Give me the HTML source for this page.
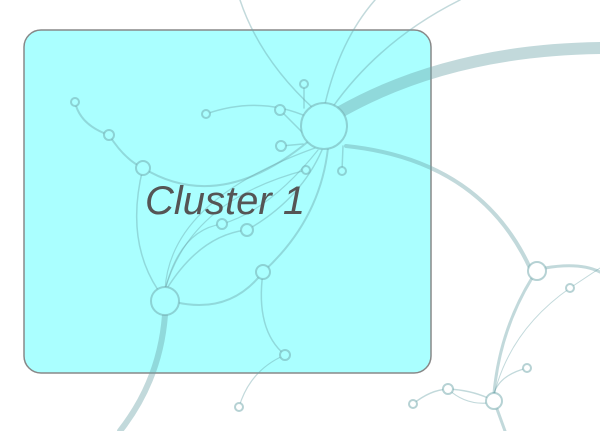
<!DOCTYPE html>
<html><head><style>body{margin:0;background:#fff}svg{display:block}</style></head><body>
<svg width="600" height="431" viewBox="0 0 600 431" xmlns="http://www.w3.org/2000/svg">
<rect x="24" y="30" width="407" height="343" rx="17" fill="#aaffff" stroke="#888" stroke-width="1.5"/>
<g fill="none" stroke="rgba(110,165,170,0.42)" stroke-linecap="round">
<path d="M340 112 Q450 50 600 48" stroke-width="12"/>
<path d="M346 146 Q480 160 530 268" stroke-width="4"/>
<path d="M165 315 Q160 380 120 431" stroke-width="6"/>
<path d="M532 278 Q500 330 494 393" stroke-width="3"/>
<path d="M545 268 Q580 262 600 272" stroke-width="3"/>
<path d="M497 409 L505 431" stroke-width="3"/>
<path d="M315 110 Q260 60 240 0" stroke-width="1.5"/>
<path d="M325 104 Q340 40 375 0" stroke-width="1.5"/>
<path d="M332 108 Q380 40 460 0" stroke-width="1.5"/>
<path d="M75 102 Q80 125 109 135 Q125 160 143 168 Q220 215 310 140" stroke-width="2"/>
<path d="M206 114 Q260 95 310 118" stroke-width="1.5"/>
<path d="M280 110 L305 135" stroke-width="1.5"/>
<path d="M304 84 L304 108" stroke-width="1.5"/>
<path d="M281 146 L303 144" stroke-width="1.5"/>
<path d="M342 171 L343 146" stroke-width="1.5"/>
<path d="M143 168 Q125 240 158 290" stroke-width="1.5"/>
<path d="M165 290 Q170 200 315 148" stroke-width="1.2"/>
<path d="M165 290 Q190 200 306 170" stroke-width="1.2"/>
<path d="M165 290 Q180 230 222 224 Q270 210 318 150" stroke-width="1.2"/>
<path d="M166 290 Q200 235 247 230 Q300 200 322 150" stroke-width="1.5"/>
<path d="M175 302 Q230 315 263 272 Q320 220 328 148" stroke-width="2"/>
<path d="M263 272 Q255 330 285 355" stroke-width="1.5"/>
<path d="M285 355 Q250 370 239 407" stroke-width="1.2"/>
<path d="M494 395 Q510 330 570 288 L600 268" stroke-width="1"/>
<path d="M494 393 Q500 375 527 368" stroke-width="1.2"/>
<path d="M413 404 Q430 390 448 389 Q470 390 488 398" stroke-width="1.5"/>
<path d="M448 389 Q465 405 488 403" stroke-width="1.2"/>
</g>
<g fill="#aaffff" stroke="rgba(110,165,170,0.5)" stroke-width="2">
<circle cx="324" cy="126" r="23"/><circle cx="165" cy="301" r="14"/>
<circle cx="143" cy="168" r="7"/><circle cx="263" cy="272" r="7"/>
<circle cx="75" cy="102" r="4"/><circle cx="109" cy="135" r="5"/>
<circle cx="206" cy="114" r="4"/><circle cx="280" cy="110" r="5"/>
<circle cx="304" cy="84" r="4"/><circle cx="281" cy="146" r="5"/>
<circle cx="306" cy="170" r="4"/><circle cx="342" cy="171" r="4"/>
<circle cx="222" cy="224" r="5"/><circle cx="247" cy="230" r="6"/>
<circle cx="285" cy="355" r="5"/>
</g>
<g fill="#fff" stroke="rgba(110,165,170,0.5)" stroke-width="2">
<circle cx="537" cy="271" r="9"/><circle cx="494" cy="401" r="8"/>
<circle cx="239" cy="407" r="4"/>
<circle cx="570" cy="288" r="4"/><circle cx="527" cy="368" r="4"/>
<circle cx="448" cy="389" r="5"/><circle cx="413" cy="404" r="4"/>
</g>
<text x="145" y="214" font-family="Liberation Sans, sans-serif" font-style="italic" font-size="40" fill="#555">Cluster 1</text>
</svg>
</body></html>
